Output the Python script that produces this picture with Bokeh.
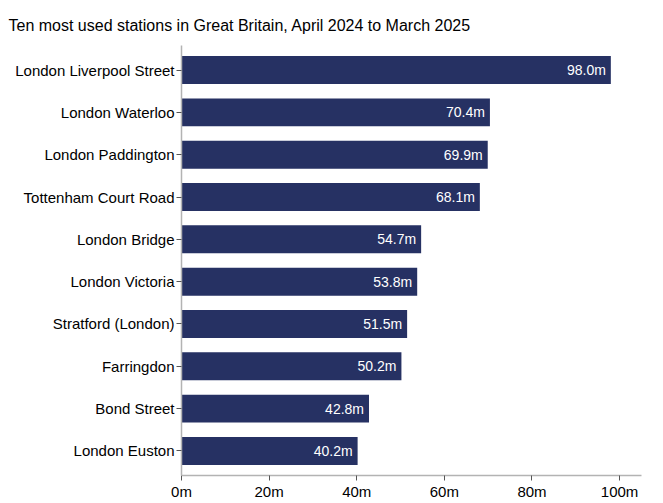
from bokeh.plotting import figure
from bokeh.models import ColumnDataSource, FactorRange, Range1d, CustomJSTickFormatter, FixedTicker
from bokeh.embed import file_html
from bokeh.resources import INLINE
from bokeh.core.properties import value

title_text = "Ten most used stations in Great Britain, April 2024 to March 2025"
stations = ["London Liverpool Street", "London Waterloo", "London Paddington",
            "Tottenham Court Road", "London Bridge", "London Victoria",
            "Stratford (London)", "Farringdon", "Bond Street", "London Euston"]
usage = [98.0, 70.4, 69.9, 68.1, 54.7, 53.8, 51.5, 50.2, 42.8, 40.2]
x_ticks = [0, 20, 40, 60, 80, 100]

labels = ["%.1fm" % v for v in usage]
src = ColumnDataSource(dict(station=stations, usage=usage, label=labels))

FONT = "Liberation Sans"
p = figure(width=663, height=503, output_backend="svg", toolbar_location=None,
           y_range=FactorRange(factors=stations[::-1], range_padding=0.016),
           x_range=Range1d(0, 105),
           title=title_text,
           min_border_left=181, min_border_right=22, min_border_top=45,
           min_border_bottom=28)

p.hbar(y="station", right="usage", left=0, height=0.66, source=src,
       fill_color="#263163", line_color=None)
p.text(x="usage", y="station", text="label", source=src, x_offset=-5,
       text_align="right", text_baseline="middle", text_color="white",
       text_font=value(FONT), text_font_size="14px")

p.title.text_font = FONT
p.title.text_font_size = "16px"
p.title.text_font_style = "normal"
p.title.text_color = "#000000"
p.title.offset = -173
p.title.standoff = 24

p.outline_line_color = None
p.xgrid.grid_line_color = None
p.ygrid.grid_line_color = None

for ax in (p.xaxis[0], p.yaxis[0]):
    ax.axis_line_color = "#b3b3b3"
    ax.axis_line_width = 1.5
    ax.major_tick_line_color = "#555555"
    ax.major_tick_out = 5
    ax.major_tick_in = 0
    ax.minor_tick_line_color = None
    ax.major_label_text_font = FONT
    ax.major_label_text_font_size = "15px"
    ax.major_label_text_color = "#000000"
    ax.major_label_standoff = 2

p.xaxis.ticker = FixedTicker(ticks=x_ticks)
p.xaxis.formatter = CustomJSTickFormatter(code="return tick + 'm';")

open("out.html", "w").write(file_html(p, INLINE))
